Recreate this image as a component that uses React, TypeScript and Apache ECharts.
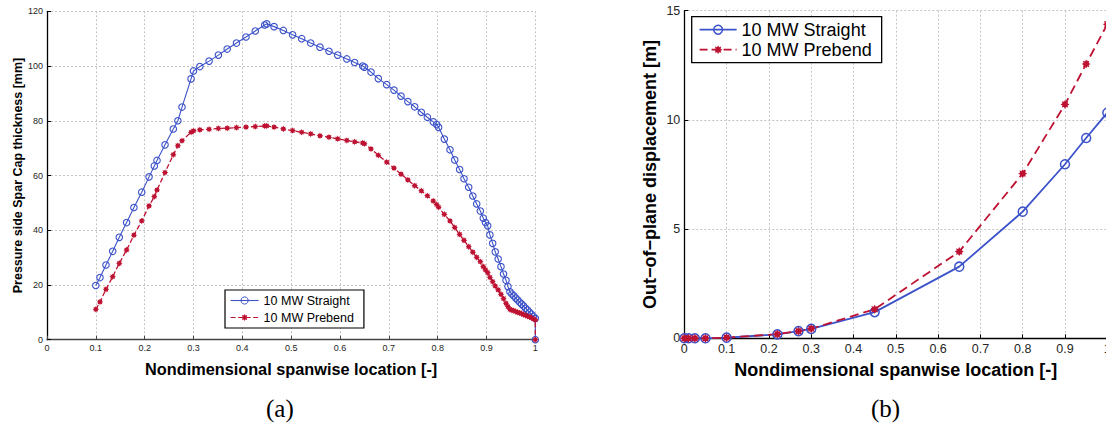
import React, { useEffect, useRef } from "react";
import * as echarts from "echarts";

// (a) Pressure side spar cap thickness
const spanA = [
  0.1, 0.1085, 0.1208, 0.1345, 0.148, 0.163, 0.178, 0.194, 0.209, 0.2198,
  0.2253, 0.2417, 0.2587, 0.268, 0.2765, 0.295, 0.3, 0.313, 0.332, 0.351,
  0.369, 0.388, 0.4075, 0.4266, 0.4458, 0.45, 0.465, 0.484, 0.503, 0.5216,
  0.54, 0.559, 0.5775, 0.5953, 0.614, 0.63, 0.6465, 0.65, 0.6635, 0.6785,
  0.6957, 0.7106, 0.725, 0.739, 0.753, 0.7666, 0.7789, 0.791, 0.798, 0.802,
  0.8137, 0.8253, 0.835, 0.845, 0.854, 0.8636, 0.872, 0.88, 0.8874, 0.8935,
  0.898, 0.9025, 0.907, 0.9127, 0.918, 0.924, 0.9297, 0.935, 0.94, 0.944,
  0.948, 0.952, 0.956, 0.96, 0.964, 0.968, 0.972, 0.976, 0.98, 0.984,
  0.988, 0.992, 0.996, 1.0, 1.0,
];
const straightA = [
  19.8, 22.7, 27.3, 32.3, 37.4, 42.8, 48.3, 53.9, 59.5, 63.5,
  65.5, 71.2, 77.0, 80.0, 85.0, 95.3, 98.2, 99.8, 101.8, 104.0,
  106.2, 108.4, 110.6, 112.8, 115.0, 115.4, 114.4, 113.0, 111.4, 110.0,
  108.4, 106.9, 105.4, 104.0, 102.6, 101.3, 100.0, 99.6, 97.8, 95.4,
  93.2, 91.2, 89.0, 87.0, 85.1, 83.1, 81.3, 79.6, 78.6, 77.6,
  73.3, 69.4, 65.7, 62.2, 58.8, 55.7, 52.5, 49.6, 47.0, 44.4,
  42.8, 41.6, 38.3, 35.2, 32.1, 29.5, 26.7, 24.0, 21.7, 19.4,
  17.5, 16.7, 16.0, 15.2, 14.5, 13.7, 13.0, 12.3, 11.5, 10.8,
  10.0, 9.3, 8.5, 7.8, 0,
];
const prebendA = [
  11.1, 13.8, 18.4, 23.0, 27.9, 32.8, 38.2, 43.4, 48.9, 52.3,
  54.7, 61.1, 67.6, 70.9, 72.7, 75.8, 76.3, 76.7, 76.9, 77.2,
  77.3, 77.5, 77.7, 77.9, 78.1, 78.1, 77.7, 77.0, 76.4, 75.8,
  75.2, 74.5, 74.0, 73.4, 72.8, 72.3, 71.9, 71.6, 69.7, 67.4,
  64.9, 62.7, 60.5, 58.4, 56.3, 54.4, 52.6, 50.7, 49.4, 48.4,
  45.8, 43.4, 41.0, 38.5, 36.3, 34.0, 32.0, 30.1, 28.5, 26.7,
  25.5, 24.5, 22.8, 21.2, 19.6, 18.2, 16.6, 15.0, 13.3, 12.1,
  11.1, 10.8, 10.6, 10.3, 10.0, 9.8, 9.5, 9.2, 8.9, 8.6,
  8.3, 8.0, 7.6, 7.2, 0,
];

// (b) Out-of-plane displacement
const spanB = [0, 0.01, 0.025, 0.05, 0.1, 0.22, 0.27, 0.3, 0.45, 0.65, 0.8, 0.9, 0.95, 1.0];
const straightB = [0, 0, 0, 0, 0.03, 0.18, 0.33, 0.43, 1.2, 3.28, 5.8, 7.97, 9.17, 10.33];
const prebendB = [0, 0, 0, 0, 0.03, 0.19, 0.33, 0.44, 1.33, 3.97, 7.54, 10.71, 12.56, 14.38];

const seriesNames = ["10 MW Straight", "10 MW Prebend"];
const xLabel = "Nondimensional spanwise location [-]";
const yLabelA = "Pressure side Spar Cap thickness [mm]";
const yLabelB = "Out\u2212of\u2212plane displacement [m]";

const BLUE = "#3C52C9";
const RED = "#BE1232";
const FONT = "'Liberation Sans', Arial, sans-serif";

function starPath(n: number, r1: number, r2: number): string {
  const pts: string[] = [];
  for (let k = 0; k < 2 * n; k++) {
    const a = -Math.PI / 2 + (k * Math.PI) / n;
    const r = k % 2 ? r2 : r1;
    pts.push(`${(10 + 10 * r * Math.cos(a)).toFixed(3)} ${(10 + 10 * r * Math.sin(a)).toFixed(3)}`);
  }
  return "path://M" + pts.join(" L") + " Z";
}
const STAR = starPath(8, 1, 0.62);

const pair = (xs: number[], ys: number[]) => xs.map((x, i) => [x, ys[i]]);
const fmt = (v: number) => String(+v.toFixed(1));

function axisX(gridIndex: number, fs: number, nameFs: number, nameGap: number, lineColor: string) {
  return {
    type: "value",
    gridIndex,
    min: 0,
    max: 1,
    interval: 0.1,
    name: xLabel,
    nameLocation: "middle",
    nameGap,
    nameTextStyle: { fontFamily: FONT, fontWeight: "bold", fontSize: nameFs, color: "#000" },
    axisLine: { show: true, onZero: false, lineStyle: { color: lineColor, width: 1.4 } },
    axisTick: { show: true, inside: true, length: 4, lineStyle: { color: lineColor } },
    axisLabel: { fontFamily: FONT, fontSize: fs, color: "#262626", margin: 4, formatter: fmt },
    splitLine: { show: true, lineStyle: { color: "#c4c4c4", type: [2, 2], width: 1 } },
  };
}
function axisY(gridIndex: number, max: number, interval: number, name: string, fs: number, nameFs: number, nameGap: number) {
  return {
    type: "value",
    gridIndex,
    min: 0,
    max,
    interval,
    name,
    nameLocation: "middle",
    nameRotate: 90,
    nameGap,
    nameTextStyle: { fontFamily: FONT, fontWeight: "bold", fontSize: nameFs, color: "#000" },
    axisLine: { show: true, onZero: false, lineStyle: { color: "#000", width: 1.3 } },
    axisTick: { show: true, inside: true, length: 4, lineStyle: { color: "#000" } },
    axisLabel: { fontFamily: FONT, fontSize: fs, color: "#262626", margin: 4 },
    splitLine: { show: true, lineStyle: { color: "#c4c4c4", type: [2, 2], width: 1 } },
  };
}

export default function App() {
  const ref = useRef<HTMLDivElement>(null);
  useEffect(() => {
    if (!ref.current) return;
    const chart = echarts.init(ref.current, undefined, { renderer: "svg" });
    chart.setOption({
      animation: false,
      backgroundColor: "#fff",
      grid: [
        { left: 47, top: 11.3, width: 488.3, height: 328.4 },
        { left: 684.3, top: 10.7, width: 423, height: 327.6 },
      ],
      xAxis: [axisX(0, 9, 16.3, 21, "#444"), axisX(1, 12.5, 18, 23, "#000")],
      yAxis: [
        axisY(0, 120, 20, yLabelA, 9, 12.5, 23),
        axisY(1, 15, 5, yLabelB, 12.5, 18, 25),
      ],
      legend: [
        {
          left: 225,
          top: 290,
          orient: "vertical",
          selectedMode: false,
          itemWidth: 28,
          itemHeight: 9,
          itemGap: 4,
          padding: [4, 10, 4, 5],
          borderColor: "#000",
          borderWidth: 1.2,
          backgroundColor: "#fff",
          textStyle: { fontFamily: FONT, fontSize: 12.5, color: "#000" },
          data: [
            { name: seriesNames[0], lineStyle: { width: 1.1 }, itemStyle: { borderWidth: 1 } },
            { name: seriesNames[1], lineStyle: { width: 1.2 } },
          ],
        },
        {
          left: 691.7,
          top: 16.7,
          orient: "vertical",
          selectedMode: false,
          itemWidth: 37,
          itemHeight: 11,
          itemGap: 2,
          padding: [4, 10, 4, 7],
          borderColor: "#000",
          borderWidth: 1.3,
          backgroundColor: "#fff",
          textStyle: { fontFamily: FONT, fontSize: 18, color: "#000" },
          data: [
            { name: seriesNames[0], lineStyle: { width: 1.8 }, itemStyle: { borderWidth: 1.5 } },
            { name: seriesNames[1], lineStyle: { width: 1.8, type: [8, 4] } },
          ],
        },
      ],
      series: [
        {
          name: seriesNames[0],
          type: "line",
          xAxisIndex: 0,
          yAxisIndex: 0,
          data: pair(spanA, straightA),
          symbol: "circle",
          symbolSize: 6.5,
          itemStyle: { color: "rgba(255,255,255,0)", borderColor: BLUE, borderWidth: 1.1 },
          lineStyle: { color: BLUE, width: 1.1 },
          emphasis: { disabled: true },
          clip: false,
        },
        {
          name: seriesNames[1],
          type: "line",
          xAxisIndex: 0,
          yAxisIndex: 0,
          data: pair(spanA, prebendA),
          symbol: STAR,
          symbolSize: 6.5,
          itemStyle: { color: RED },
          lineStyle: { color: RED, width: 1.3, type: [5, 2.5] },
          emphasis: { disabled: true },
          clip: false,
        },
        {
          name: seriesNames[0],
          type: "line",
          xAxisIndex: 1,
          yAxisIndex: 1,
          data: pair(spanB, straightB),
          symbol: "circle",
          symbolSize: 9,
          itemStyle: { color: "rgba(255,255,255,0)", borderColor: BLUE, borderWidth: 1.5 },
          lineStyle: { color: BLUE, width: 1.8 },
          emphasis: { disabled: true },
          clip: false,
        },
        {
          name: seriesNames[1],
          type: "line",
          xAxisIndex: 1,
          yAxisIndex: 1,
          data: pair(spanB, prebendB),
          symbol: STAR,
          symbolSize: 9,
          itemStyle: { color: RED },
          lineStyle: { color: RED, width: 1.8, type: [9, 5] },
          emphasis: { disabled: true },
          clip: false,
        },
      ],
      graphic: [
        {
          type: "text",
          left: 266,
          top: 396,
          style: { text: "(a)", fontFamily: "'Liberation Serif', 'DejaVu Serif', serif", fontSize: 25, fill: "#000" },
        },
        {
          type: "text",
          left: 871,
          top: 396,
          style: { text: "(b)", fontFamily: "'Liberation Serif', 'DejaVu Serif', serif", fontSize: 25, fill: "#000" },
        },
      ],
    });
    return () => chart.dispose();
  }, []);
  return (
    <div style={{ position: "absolute", left: 0, top: 0, width: 1106, height: 427, overflow: "hidden" }}>
      <div ref={ref} style={{ width: 1130, height: 427 }} />
    </div>
  );
}
